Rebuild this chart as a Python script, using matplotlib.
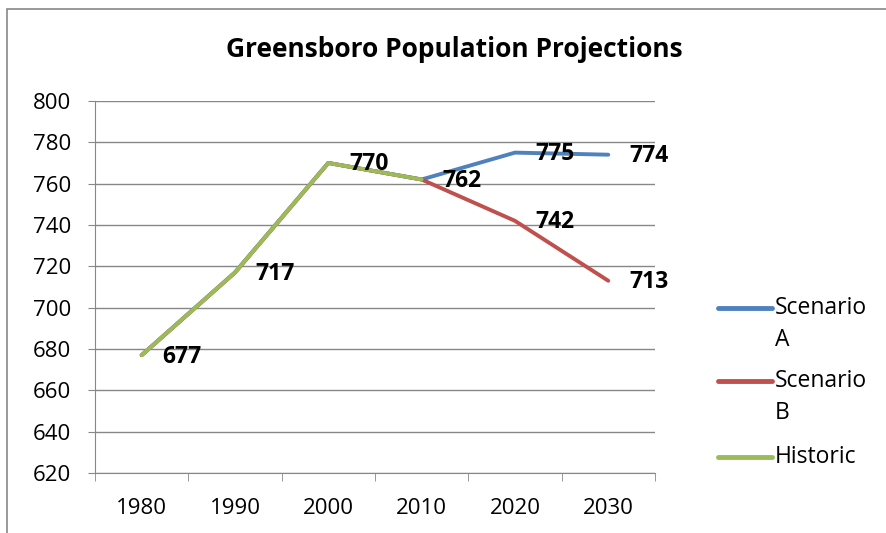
import numpy as np
import matplotlib.pyplot as plt
from matplotlib.lines import Line2D
from matplotlib.patches import Rectangle

plt.rcParams['font.family'] = ['Open Sans', 'DejaVu Sans']

# data
years = ["1980", "1990", "2000", "2010", "2020", "2030"]
scenario_a = [677, 717, 770, 762, 775, 774]
scenario_b = [677, 717, 770, 762, 742, 713]
historic = [677, 717, 770, 762, np.nan, np.nan]

series_names = ["Scenario\nA", "Scenario\nB", "Historic"]
series_colors = ["#4F81BD", "#C0504D", "#9BBB59"]

fig = plt.figure(figsize=(8.86, 5.33), dpi=100)
ax = fig.add_axes([0.1072, 0.1126, 0.632, 0.698])

# chart border like a spreadsheet chart area
fig.patches.append(Rectangle((7 / 886, -0.05), 1.0, 1 - 9 / 533 + 0.05,
                             transform=fig.transFigure, fill=False,
                             edgecolor="#878787", linewidth=1.2))

x = np.arange(len(years))
for vals, name, c in zip((scenario_a, scenario_b, historic), series_names, series_colors):
    ax.plot(x, vals, color=c, lw=2.8, label=name, solid_capstyle="round")

# data labels
labels_done = set()
for series in (historic, scenario_a, scenario_b):
    for i, v in enumerate(series):
        if np.isnan(v) or (i, v) in labels_done:
            continue
        labels_done.add((i, v))
        ax.annotate(f"{v:.0f}", (i, v), xytext=(15, -1), textcoords="offset points",
                    ha="left", va="center", fontsize=16.5, fontweight="bold")

ax.set_xlim(-0.5, 5.5)
ax.set_ylim(620, 800)
ax.set_yticks(np.arange(620, 801, 20))
ax.set_xticks(x)
ax.set_xticklabels(years)
ax.set_xticks(np.arange(-0.5, 5.6, 1), minor=True)
ax.tick_params(axis="x", which="major", length=0, pad=18, labelsize=16)
ax.tick_params(axis="x", which="minor", length=6, color="#878787")
ax.tick_params(axis="y", length=5, color="#878787", labelsize=16, pad=12)

ax.grid(axis="y", color="#878787", lw=1)
ax.set_axisbelow(True)
for s in ("top", "right"):
    ax.spines[s].set_visible(False)
for s in ("left", "bottom"):
    ax.spines[s].set_color("#878787")

fig.text(0.513, 0.908, "Greensboro Population Projections", ha="center", va="center",
         fontsize=19, fontweight="bold")

# legend, laid out like the spreadsheet one (handle beside first line of label)
leg_y = [308, 381, 457]
for name, c, yp in zip(series_names, series_colors, leg_y):
    yf = 1 - yp / 533
    fig.add_artist(Line2D([718 / 886, 772 / 886], [yf, yf], transform=fig.transFigure,
                          color=c, lw=3.5, solid_capstyle="round"))
    for k, line in enumerate(name.split("\n")):
        fig.text(775 / 886, 1 - (yp + 32 * k) / 533, line, ha="left", va="center",
                 fontsize=16.5, transform=fig.transFigure)

fig.savefig("out.png", dpi=100)
